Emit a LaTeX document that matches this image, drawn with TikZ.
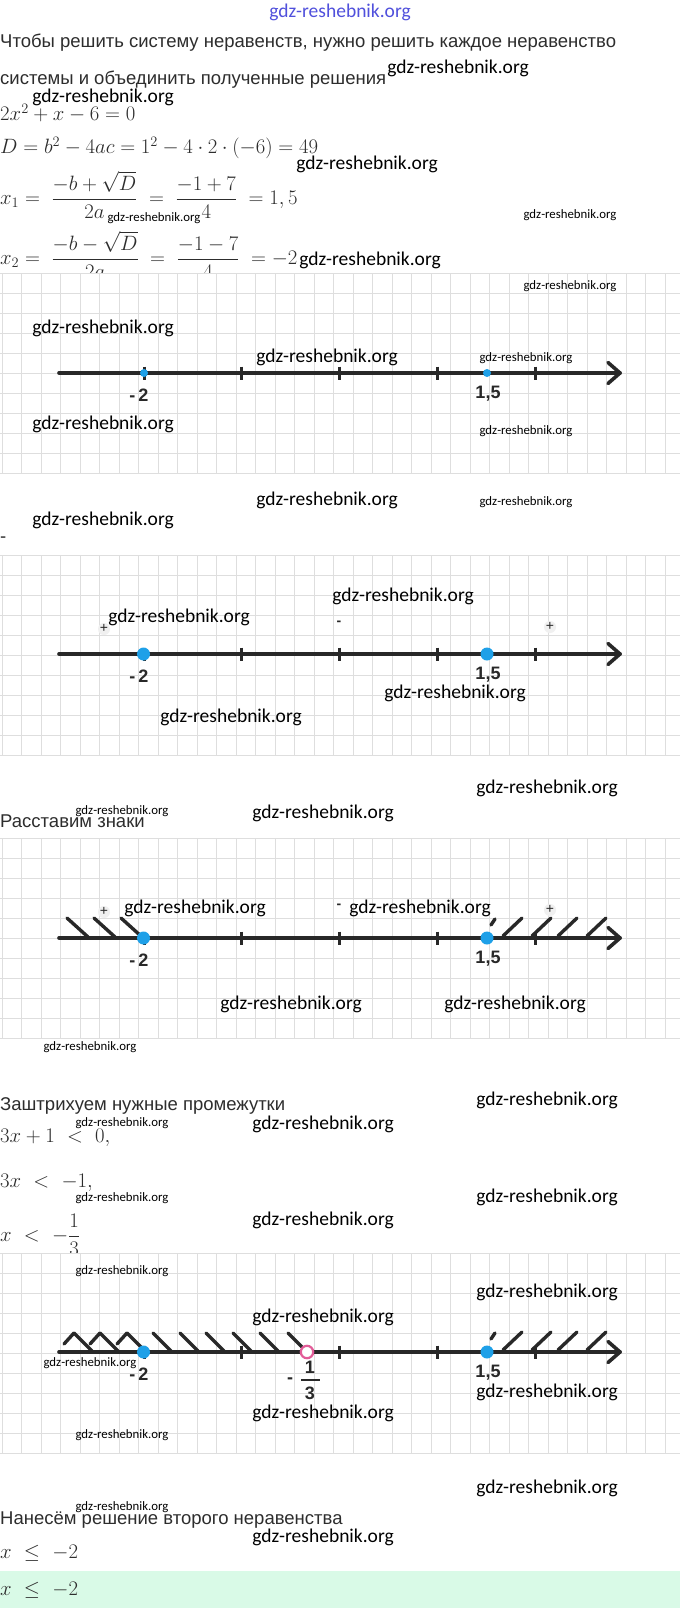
\documentclass[tikz,border=0pt]{standalone}
\usepackage{amsmath}
\usepackage{fontspec}
\newfontfamily\rutext{Liberation Sans}
\newfontfamily\wmfont{Carlito}
\usetikzlibrary{calc}

\definecolor{inkgray}{RGB}{45,45,45}
\definecolor{axisgray}{RGB}{40,40,40}
\definecolor{dotblue}{RGB}{30,160,232}
\definecolor{ringpink}{RGB}{226,92,152}
\definecolor{gridgray}{RGB}{222,222,222}
\definecolor{answergreen}{RGB}{217,250,231}
\definecolor{linkblue}{RGB}{80,80,220}

\tikzset{
  rutxt/.style={anchor=west, inner sep=0pt, text=inkgray, font=\rutext\fontsize{18.5}{22}\selectfont},
  mathtxt/.style={anchor=west, inner sep=0pt, text=inkgray, font=\fontsize{21.5}{26}\selectfont},
  bigmark/.style={inner sep=0pt, font=\wmfont\fontsize{19.5}{22}\selectfont},
  smallmark/.style={inner sep=0pt, font=\wmfont\fontsize{12.8}{15}\selectfont},
  numlabel/.style={inner sep=0pt, text=axisgray, font=\rutext\bfseries\fontsize{18}{20}\selectfont},
  signlabel/.style={inner sep=0pt, text=axisgray, font=\rutext\fontsize{14}{16}\selectfont},
  axisline/.style={draw=axisgray, line width=3.6pt, line cap=round, line join=round},
  tickline/.style={draw=axisgray, line width=3pt},
  hatchline/.style={draw=axisgray, line width=3.4pt, line cap=round},
  gridline/.style={draw=gridgray, line width=0.8pt},
  bigdot/.style={circle, fill=dotblue, inner sep=0pt, minimum size=13pt},
  smalldot/.style={circle, fill=dotblue, inner sep=0pt, minimum size=8pt},
}

\begin{document}
\begin{tikzpicture}[x=1pt,y=-1pt]
\useasboundingbox[fill=white] (0,0) rectangle (680,1608);

% text of the solution
\node[rutxt] (intro1) at (0,43) {Чтобы решить систему неравенств, нужно решить каждое неравенство};
\node[rutxt] (intro2) at (0,80) {системы и объединить полученные решения};
\node[mathtxt] (eq) at (0,113) {$2x^2+x-6=0$};
\node[mathtxt] (disc) at (0,148) {$D=b^2-4ac=1^2-4\cdot2\cdot(-6)=49$};
\node[mathtxt] (root1) at (0,195) {$x_1=\;\dfrac{-b+\sqrt{D}}{2a}\;=\;\dfrac{-1+7}{4}\;=1,5$};
\node[mathtxt] (root2) at (0,255) {$x_2=\;\dfrac{-b-\sqrt{D}}{2a}\;=\;\dfrac{-1-7}{4}\;=-2$};
\node[rutxt] (stray) at (0,540) {-};
\node[rutxt] (signs) at (0,821) {Расставим знаки};
\node[rutxt] (shade) at (0,1106) {Заштрихуем нужные промежутки};
\node[mathtxt] (ineq1) at (0,1138) {$3x+1\ <\ 0,$};
\node[mathtxt] (ineq2) at (0,1183) {$3x\ <\ -1,$};
\node[mathtxt] (ineq3) at (0,1235) {$x\ <\ -\dfrac{1}{3}$};
\node[rutxt] (second) at (0,1520) {Нанесём решение второго неравенства};
\node[mathtxt] (ans1) at (0,1553) {$x\ \le\ -2$};
\fill[answergreen] (0,1571) rectangle (680,1608);
\node[mathtxt] (ans2) at (0,1590) {$x\ \le\ -2$};

% squared paper
\foreach \gy in {273,555,838,1253} {
  \fill[white] (0,\gy) rectangle (680,\gy+200);
  \foreach \i in {0,...,34} \draw[gridline] (2+19.5*\i,\gy) -- (2+19.5*\i,\gy+200);
  \foreach \j in {0,...,10} \draw[gridline] (0,\gy+20*\j) -- (680,\gy+20*\j);
}

% hatching
\foreach \hy in {938,1352} {
  \draw[hatchline] (491,\hy-13) -- (495,\hy-19);
  \foreach \hx in {503,532,558,587} \draw[hatchline] (\hx,\hy-2) -- (\hx+19,\hy-20);
}
\foreach \hx in {67,94,121} \draw[hatchline] (\hx,918) -- (\hx+21,937);
\foreach \hx in {74,100,127} {
  \draw[hatchline] (\hx-10,1344) -- (\hx,1333);
  \draw[hatchline] (\hx,1333) -- (\hx+18,1351);
}
\foreach \hx in {153,180,206,233,260,288} \draw[hatchline] (\hx,1333) -- (\hx+18,1351);

% number lines
\foreach \n/\y in {1/373,2/654,3/938,4/1352} {
  \coordinate (start\n) at (59,\y);
  \coordinate (tip\n) at (620,\y);
  \draw[axisline] (start\n) -- (tip\n);
  \draw[axisline] ($(tip\n)+(-12,-10.5)$) -- (tip\n) -- ($(tip\n)+(-12,10.5)$);
  \foreach \t in {144,241.5,339,437,535} \draw[tickline] (\t,\y-6.5) -- (\t,\y+6.5);
  \node[numlabel] (lm\n) at (139,\y+22) {-\hspace{3pt}2};
  \node[numlabel] (lp\n) at (488,\y+21) {1,5};
}
\node[smalldot] (m1) at (144,373) {};
\node[smalldot] (p1) at (487,373) {};
\foreach \n/\y in {2/654,3/938,4/1352} {
  \node[bigdot] (m\n) at (143.5,\y) {};
  \node[bigdot] (p\n) at (487,\y) {};
}
\draw[ringpink, line width=2.2pt, fill=white] (307,1352) circle (6.2);
\node[numlabel] (third1) at (310,1367) {1};
\node[numlabel] (third3) at (310,1393) {3};
\draw[axisgray, line width=1.6pt] (301,1380) -- (320,1380);
\node[numlabel] (thirdm) at (290,1381) {-};

% signs
\foreach \sy in {628,911} {
  \fill[gray!12] (104,\sy+1) circle (6);
  \node[signlabel] (plusl\sy) at (104,\sy) {+};
  \node[signlabel] (minus\sy) at (339,\sy-5) {\bfseries -};
  \fill[gray!12] (550,\sy-1) circle (6);
  \node[signlabel] (plusr\sy) at (550,\sy-2) {+};
}

% watermarks
\node[bigmark, text=linkblue] (wtop) at (340,12) {gdz-reshebnik.org};
\foreach \x/\y [count=\i] in {458/68,103/97,367/164,370/260,103/328,327/357,103/424,327/500,103/520,
  403/596,179/617,455/693,231/717,547/788,323/813,195/908,420/908,291/1004,515/1004,547/1100,
  323/1124,547/1197,323/1220,547/1292,323/1317,547/1392,323/1413,547/1488,323/1537}
  \node[bigmark] (wb\i) at (\x,\y) {gdz-reshebnik.org};
\foreach \x/\y [count=\i] in {154/218,570/215,570/286,526/358,526/431,526/502,122/811,90/1047,
  122/1123,122/1198,122/1271,90/1363,122/1435,122/1507}
  \node[smallmark] (ws\i) at (\x,\y) {gdz-reshebnik.org};
\end{tikzpicture}
\end{document}
